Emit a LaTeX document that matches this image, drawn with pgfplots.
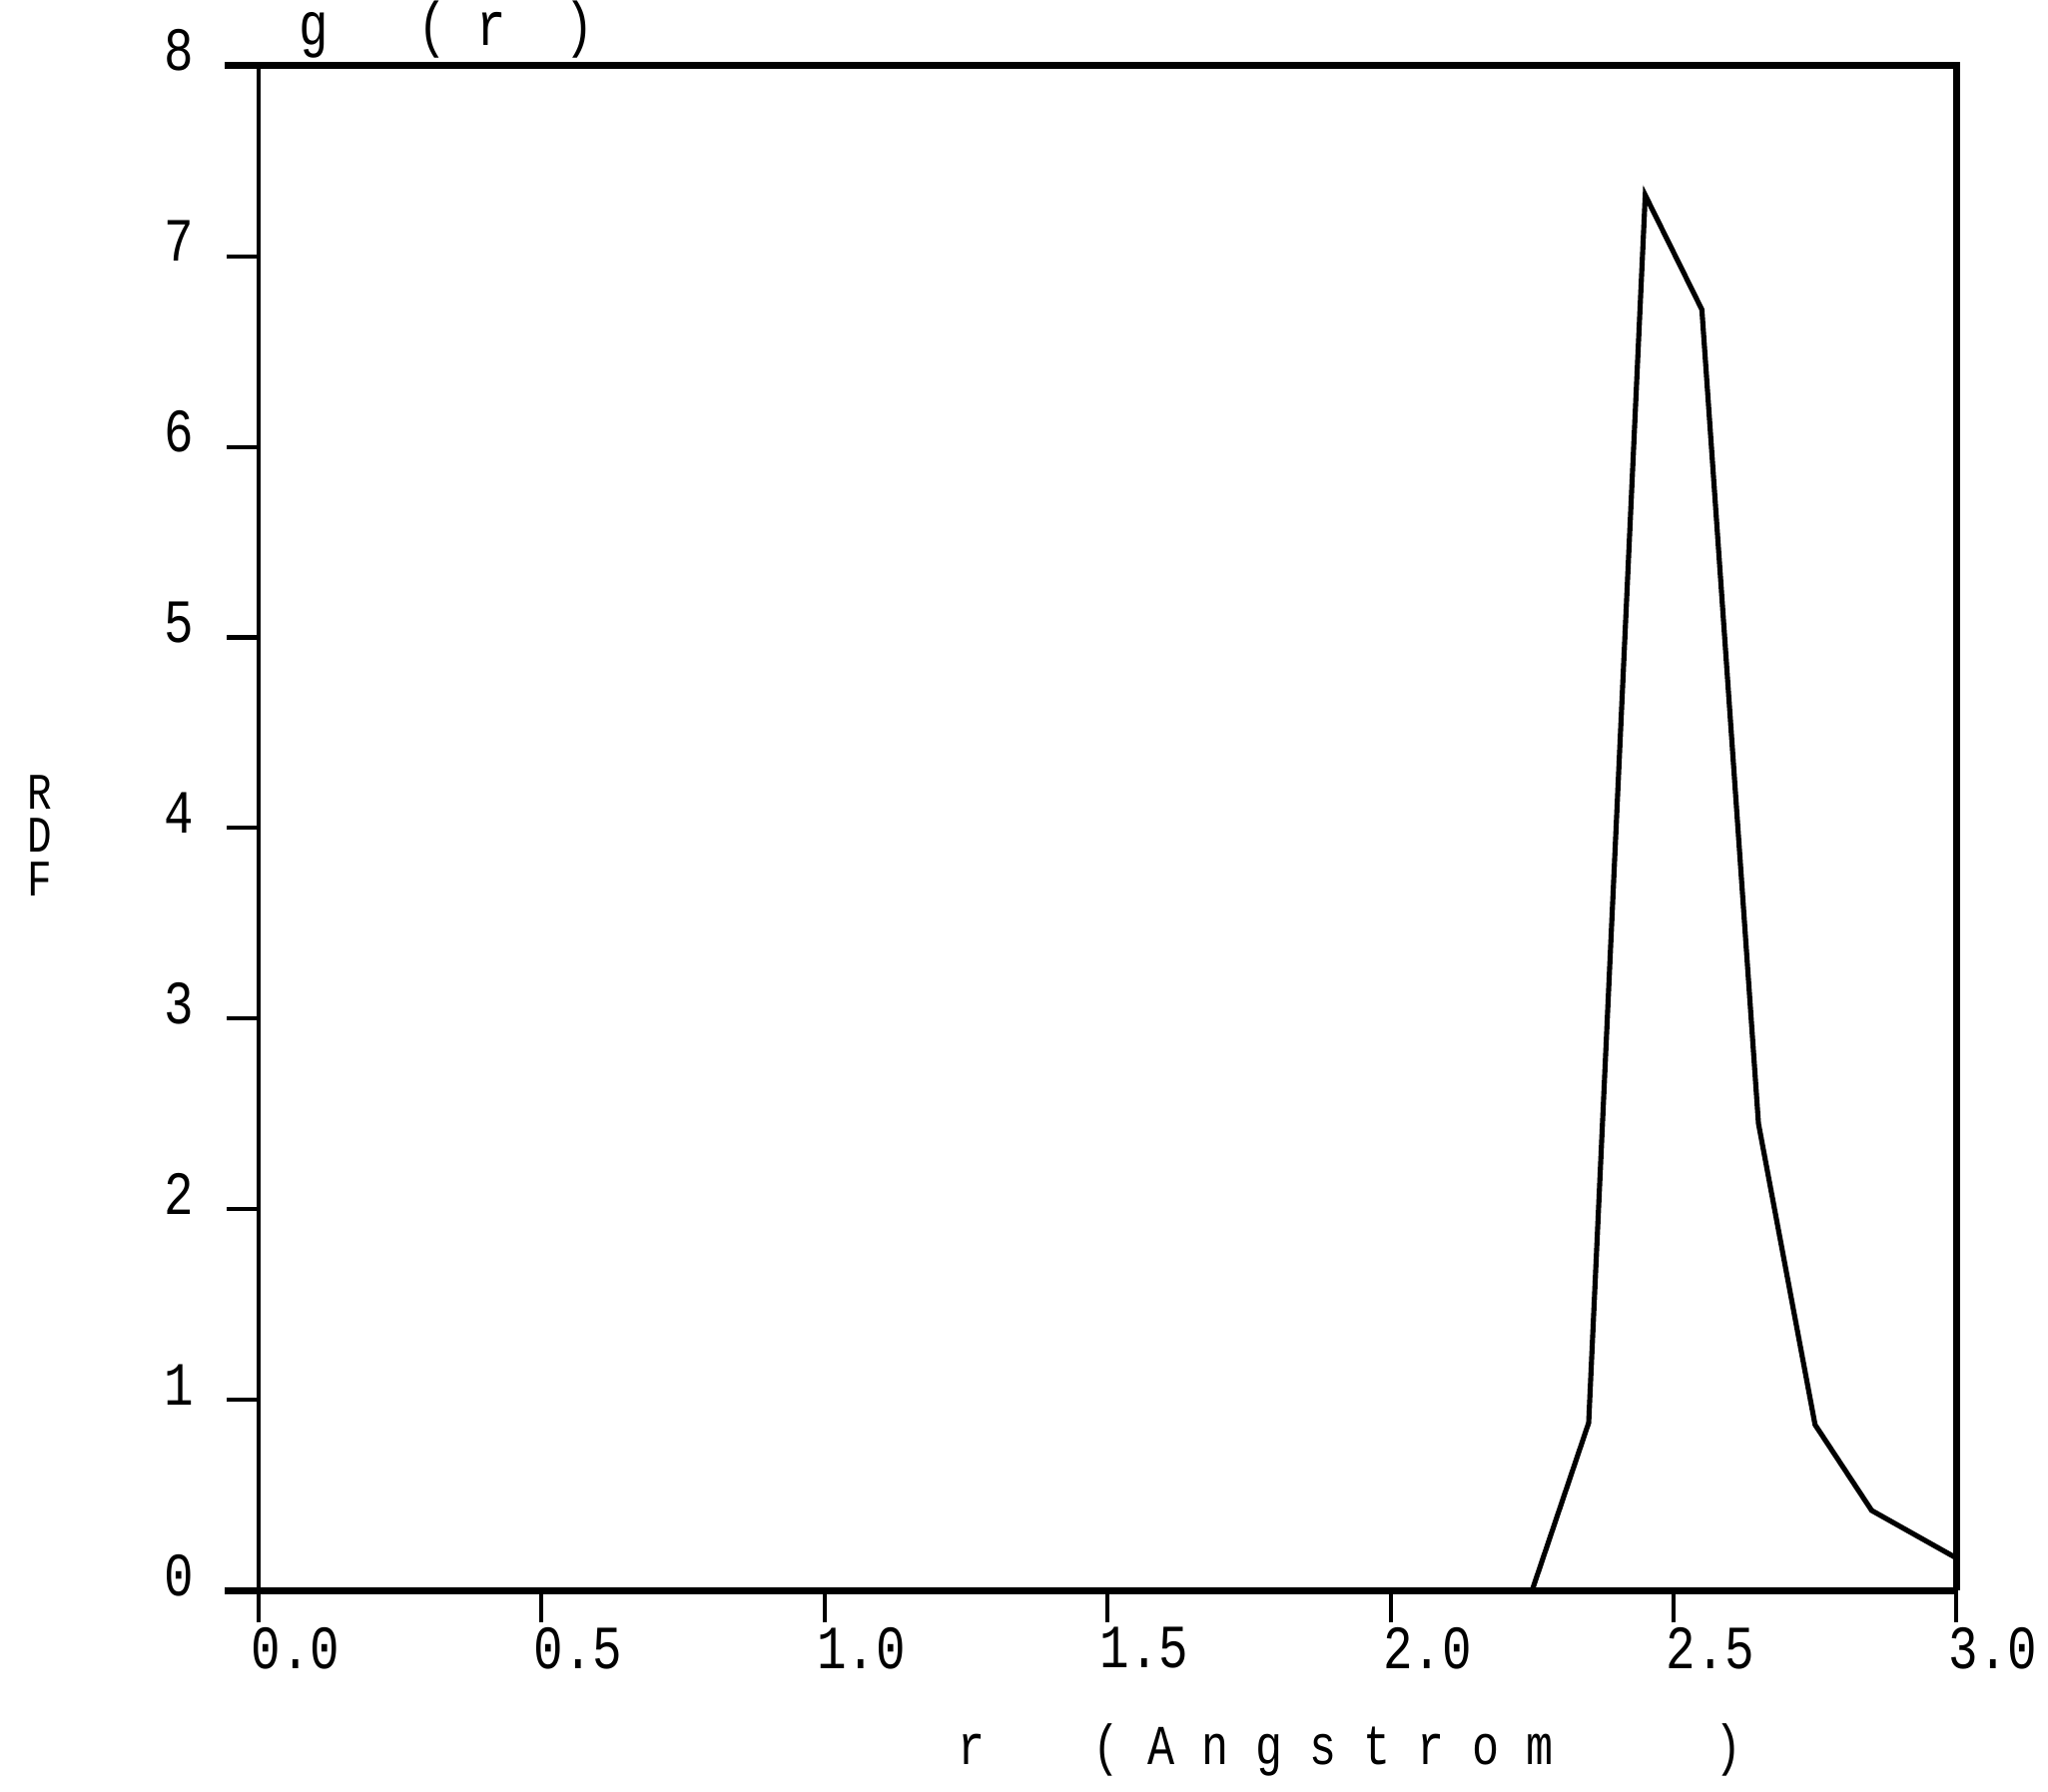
\documentclass[border=0pt]{standalone}
\usepackage{fontspec}
\newfontfamily\cour[FakeStretch=0.8]{Liberation Mono}
\usepackage{pgfplots}
\pgfplotsset{compat=1.18}

\begin{document}
\begin{tikzpicture}
\def\u{0.255pt}
\path[use as bounding box] (-198*\u,-154*\u) rectangle (1370*\u,1218*\u);
\begin{axis}[
    scale only axis, width=331.5pt, height=297.8pt,
    xmin=0, xmax=3, ymin=0, ymax=8,
    xtick={0,0.5,...,3}, ytick={0,1,...,8},
    xticklabels={0.0,0.5,1.0,1.5,2.0,2.5,3.0},
    tick align=outside, major tick length=6.2pt,
    every tick/.style={black, line width=0.8pt},
    axis line style={line width=0.6pt},
    xtick pos=bottom, ytick pos=left,
    tick label style={font=\cour\fontsize{12}{12}\selectfont},
    xticklabel style={anchor=north west, xshift=-5pt, yshift=2.5pt},
    yticklabel style={anchor=east, yshift=3pt, xshift=-3pt},
    /pgf/number format/assume math mode=true,
    clip=false]
\addplot[black, line width=1pt] coordinates {
 (0,0) (2.25,0) (2.35,0.88) (2.45,7.32) (2.55,6.72) (2.65,2.45)
 (2.75,0.87) (2.85,0.42) (3.0,0.17)};
% heavier frame lines as in the original
\draw[line width=1.3pt] ([xshift=-6.6pt]rel axis cs:0,0) -- (rel axis cs:1,0);
\draw[line width=1.3pt] ([xshift=-6.6pt]rel axis cs:0,1) -- (rel axis cs:1,1) -- (rel axis cs:1,0);
\node[font=\cour\fontsize{12}{12}\selectfont, anchor=base west] at ([yshift=4pt, xshift=-3.3pt]axis cs:0.07,8) {g~~~(~r~~)};
\node[font=\cour\fontsize{11}{11}\selectfont, anchor=base west] at ([yshift=-34pt, xshift=-4pt]axis cs:1.24,0) {r~~~~(~A~n~g~s~t~r~o~m~~~~~~)};
\node[font=\cour\fontsize{10}{8.5}\selectfont, align=center] at ([xshift=-42.8pt]axis cs:0,3.96) {R\\D\\F};
\end{axis}
\end{tikzpicture}
\end{document}
